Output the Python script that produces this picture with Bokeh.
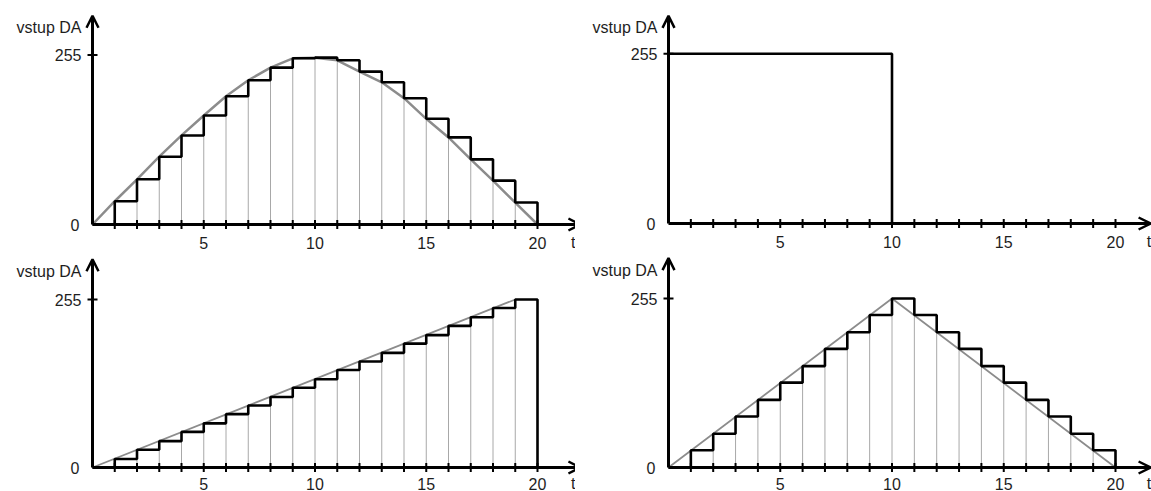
import math

from bokeh.core.properties import value
from bokeh.embed import file_html
from bokeh.layouts import gridplot
from bokeh.models import Arrow, OpenHead, Range1d
from bokeh.plotting import figure
from bokeh.resources import INLINE

# ---- data: DAC input codes sampled at t = 0..20 -------------------------
t_samples = list(range(21))

# sine: held sample value on [k, k+1], last point returns to 0 at t = 20
sine_codes = [0, 35, 68, 102, 134, 164, 193, 217, 236, 250, 251,
              247, 230, 214, 190, 159, 131, 98, 66, 33, 0]

# square: 255 for the first half, 0 afterwards
square_t = [0, 10, 20.1]
square_codes = [255, 0, 0]

# ramp (sawtooth): rises in 19 steps to 255, falls to 0 at t = 20
ramp_t = list(range(21)) + [20.6]
ramp_codes = [0, 13, 27, 40, 54, 67, 81, 94, 107, 121, 134,
              148, 161, 174, 188, 201, 215, 228, 242, 255, 0, 0]
ramp_curve_t = [0, 19]
ramp_curve = [0, 255]

# triangle: up to 255 at t = 10, back down to 0 at t = 20
tri_t = list(range(21)) + [20.8]
tri_codes = [0, 26, 51, 77, 102, 128, 153, 179, 204, 230, 255,
             230, 204, 179, 153, 128, 102, 77, 51, 26, 0, 0]
tri_curve_t = [0, 10, 20]
tri_curve = [0, 255, 0]

x_ticks = list(range(1, 21))
x_tick_labels = [5, 10, 15, 20]
y_tick_labels = [0, 255]
y_title = "vstup DA"
x_title = "t"

FONT = value("Liberation Sans")
TEXT_COLOR = "#1e1e1e"
GRAY_CURVE = "#8c8c8c"
GRAY_GRID = "#a8a8a8"


def panel(w, h, ox, oy, sx, sy):
    """Blank canvas where t=0/code=0 sits ox px from the left, oy px from the bottom."""
    p = figure(width=w, height=h,
               x_range=Range1d(-ox / sx, (w - ox) / sx),
               y_range=Range1d(-oy / sy, (h - oy) / sy),
               min_border=0, output_backend="svg", toolbar_location=None)
    p.axis.visible = False
    p.grid.visible = False
    p.outline_line_color = None
    p.background_fill_color = "white"
    p.border_fill_color = "white"
    return p


def axes(p, x_end, y_end, t_label_x, label_drop):
    # axis lines with open arrow heads
    p.add_layout(Arrow(end=OpenHead(size=12, line_width=2.5, line_color="black"),
                       x_start=0, y_start=0, x_end=x_end, y_end=0,
                       line_width=3, line_color="black"))
    p.add_layout(Arrow(end=OpenHead(size=12, line_width=2.5, line_color="black"),
                       x_start=0, y_start=0, x_end=0, y_end=y_end,
                       line_width=3, line_color="black"))
    # tick marks
    p.scatter(x=x_ticks, y=[0] * len(x_ticks), marker="dash", size=9,
              angle=math.pi / 2, line_width=2, line_color="black")
    p.scatter(x=[0], y=[255], marker="dash", size=10,
              line_width=2, line_color="black")
    # tick labels
    p.text(x=x_tick_labels, y=[0] * len(x_tick_labels),
           text=[str(v) for v in x_tick_labels],
           text_font=FONT, text_font_size="16px", text_color=TEXT_COLOR,
           text_align="center", text_baseline="middle", y_offset=label_drop)
    p.text(x=[0, 0], y=y_tick_labels, text=[str(v) for v in y_tick_labels],
           text_font=FONT, text_font_size="16px", text_color=TEXT_COLOR,
           text_align="right", text_baseline="middle", x_offset=[-13, -11])
    # axis titles
    p.text(x=[0], y=[y_end], text=[y_title],
           text_font=FONT, text_font_size="16px", text_color=TEXT_COLOR,
           text_align="right", text_baseline="middle", x_offset=-11, y_offset=12)
    p.text(x=[t_label_x], y=[0], text=[x_title],
           text_font=FONT, text_font_size="16px", text_color=TEXT_COLOR,
           text_align="center", text_baseline="middle", y_offset=label_drop)


def sample_lines(p, codes):
    """Thin gray verticals from the baseline up to each held sample."""
    ks = list(range(1, 20))
    p.segment(x0=ks, y0=[0] * len(ks), x1=ks, y1=[codes[k] for k in ks],
              line_color=GRAY_GRID, line_width=1)


# ---- sine ---------------------------------------------------------------
p_sine = panel(575, 252, 92, 28, 22.25, 169.5 / 255)
sample_lines(p_sine, sine_codes)
p_sine.line(t_samples, sine_codes, line_color=GRAY_CURVE, line_width=2.5)
p_sine.step(t_samples, sine_codes, mode="after", line_color="black", line_width=2.6)
axes(p_sine, 21.93, 314, 21.6, 18)

# ---- square -------------------------------------------------------------
p_square = panel(576, 252, 93, 29, 22.35, 169.7 / 255)
p_square.step(square_t, square_codes, mode="after", line_color="black", line_width=2.6)
axes(p_square, 21.57, 312, 21.5, 18)

# ---- ramp ---------------------------------------------------------------
p_ramp = panel(575, 239, 92, 24, 22.25, 168 / 255)
sample_lines(p_ramp, ramp_codes)
p_ramp.line(ramp_curve_t, ramp_curve, line_color=GRAY_CURVE, line_width=1.8)
p_ramp.step(ramp_t, ramp_codes, mode="after", line_color="black", line_width=2.6)
axes(p_ramp, 21.93, 316, 21.6, 16)

# ---- triangle -----------------------------------------------------------
p_tri = panel(576, 239, 93, 24, 22.35, 169 / 255)
sample_lines(p_tri, tri_codes)
p_tri.line(tri_curve_t, tri_curve, line_color=GRAY_CURVE, line_width=1.8)
p_tri.step(tri_t, tri_codes, mode="after", line_color="black", line_width=2.6)
axes(p_tri, 21.57, 316, 21.5, 16)

grid = gridplot([[p_sine, p_square], [p_ramp, p_tri]], toolbar_location=None)

open("out.html", "w").write(file_html(grid, INLINE))
